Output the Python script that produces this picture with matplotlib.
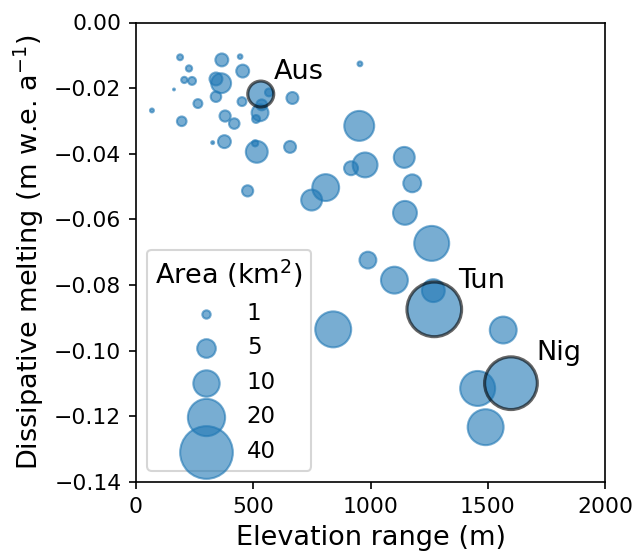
import matplotlib
matplotlib.use("Agg")
import matplotlib.pyplot as plt
import numpy as np

# Glacier data: elevation range (m), dissipative melting (m w.e. a^-1), area (km^2)
elev = [188, 366, 444, 955, 455, 226, 206, 239, 341, 363, 162, 68, 264, 341, 452,
        567, 667, 536, 529, 512, 195, 380, 419, 377, 327, 515, 508, 657, 476,
        952, 1144, 977, 917, 1178, 809, 749, 1147, 1261, 989, 1102, 1268, 841,
        1566, 1457, 1491]
melt = [-0.0106, -0.0114, -0.0104, -0.0126, -0.0148, -0.0140, -0.0175, -0.0178,
        -0.0172, -0.0185, -0.0204, -0.0268, -0.0247, -0.0226, -0.0241, -0.0213,
        -0.0230, -0.0251, -0.0275, -0.0294, -0.0301, -0.0285, -0.0308, -0.0363,
        -0.0366, -0.0394, -0.0368, -0.0379, -0.0513, -0.0315, -0.0411, -0.0434,
        -0.0444, -0.0490, -0.0503, -0.0541, -0.0580, -0.0673, -0.0724, -0.0785,
        -0.0817, -0.0935, -0.0937, -0.1115, -0.1233]
area = [0.5, 2.4, 0.3, 0.33, 2.4, 0.56, 0.56, 0.9, 2.4, 5.7, 0.05, 0.22, 1.14, 1.6,
        1.14, 0.9, 2.05, 1.7, 4.1, 0.9, 1.33, 1.8, 1.6, 2.4, 0.12, 6.9, 0.56, 2.05,
        1.8, 12.9, 6.3, 8.9, 2.8, 4.6, 10.4, 6.3, 8.2, 17.6, 4.1, 10.4, 7.5, 18.6,
        10.4, 17.6, 18.6]

# Highlighted glaciers
hl_names = ["Aus", "Tun", "Nig"]
hl_elev = [532, 1272, 1599]
hl_melt = [-0.0218, -0.0874, -0.1099]
hl_area = [9.7, 43.0, 40.0]
hl_label_x = [588, 1374, 1709]
hl_label_y = [-0.0173, -0.0809, -0.1028]

legend_areas = [1, 5, 10, 20, 40]

x_ticks = [0, 500, 1000, 1500, 2000]
y_ticks = [0.00, -0.02, -0.04, -0.06, -0.08, -0.10, -0.12, -0.14]

SCALE = 16
blue = "#1f77b4"

fig = plt.figure(figsize=(633 / 150, 554 / 150), dpi=150)
ax = fig.add_axes([136 / 633, 1 - 482 / 554, 469 / 633, 459.5 / 554])

ax.scatter(elev, melt, s=[SCALE * a for a in area], color=blue, alpha=0.6,
           linewidths=1.0)
ax.scatter(hl_elev, hl_melt, s=[SCALE * a for a in hl_area], facecolor=blue,
           edgecolor="k", alpha=0.6, linewidths=1.5)

for name, lx, ly in zip(hl_names, hl_label_x, hl_label_y):
    ax.text(lx, ly, name, fontsize=13, ha="left", va="baseline")

ax.set_xlim(0, 2000)
ax.set_ylim(-0.14, 0.0)
ax.set_xticks(x_ticks)
ax.set_yticks(y_ticks)
ax.set_yticklabels([f"{v:.2f}".replace("-", "\u2212") for v in y_ticks])
ax.tick_params(labelsize=10.5)
ax.set_xlabel("Elevation range (m)", fontsize=13)
ax.set_ylabel("Dissipative melting (m w.e. a$^{-1}$)", fontsize=13)

handles = [ax.scatter([], [], s=SCALE * a, color=blue, alpha=0.6, linewidths=1.0)
           for a in legend_areas]
ax.legend(handles, [str(a) for a in legend_areas], title="Area (km$^2$)",
          loc="lower left", fontsize=11, title_fontsize=13, scatterpoints=1,
          borderpad=0.35)

fig.savefig("out.png", dpi=150)
